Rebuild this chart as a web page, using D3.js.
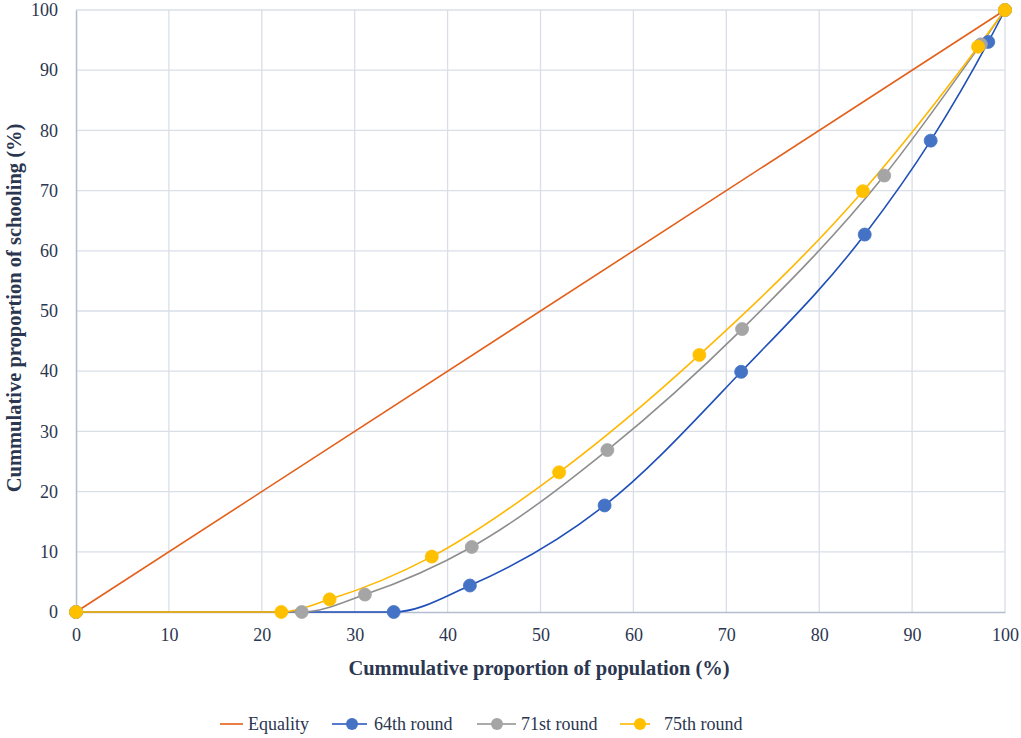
<!DOCTYPE html>
<html><head><meta charset="utf-8">
<script src="https://cdn.jsdelivr.net/npm/d3@7"></script>
<style>body{margin:0;background:#fff}svg{display:block}
svg text{font-family:"Liberation Serif","Times New Roman",serif}</style>
</head><body>
<svg id="c" width="1021" height="738"></svg>
<script>
const xTicks = [0,10,20,30,40,50,60,70,80,90,100];
const yTicks = [0,10,20,30,40,50,60,70,80,90,100];
const equalityX = [0, 100];
const equalityY = [0, 100];
const r64X = [0, 34.2, 42.4, 56.9, 71.6, 84.9, 92.0, 98.2, 100];
const r64Y = [0, 0, 4.4, 17.7, 39.9, 62.7, 78.3, 94.7, 100];
const r71X = [0, 24.3, 31.1, 42.6, 57.2, 71.7, 87.0, 97.4, 100];
const r71Y = [0, 0, 2.9, 10.8, 26.9, 47.0, 72.5, 94.3, 100];
const r75X = [0, 22.1, 27.3, 38.3, 52.0, 67.1, 84.7, 97.1, 100];
const r75Y = [0, 0, 2.1, 9.2, 23.2, 42.7, 69.9, 93.9, 100];
const seriesNames = ["Equality", "64th round", "71st round", "75th round"];

const svg = d3.select("#c");
const x = d3.scaleLinear().domain([0,100]).range([76,1005]);
const y = d3.scaleLinear().domain([0,100]).range([612,10]);
const serif = "'Liberation Serif','Times New Roman',serif";
const textCol = "#2b3650";

// grid
svg.append("g").selectAll("line").data(xTicks.filter(d=>d>0)).join("line")
  .attr("x1",d=>x(d)).attr("x2",d=>x(d)).attr("y1",y(0)).attr("y2",y(100))
  .attr("stroke","#d9dee7").attr("stroke-width",1.3);
svg.append("g").selectAll("line").data(yTicks.filter(d=>d>0)).join("line")
  .attr("x1",x(0)).attr("x2",x(100)).attr("y1",d=>y(d)).attr("y2",d=>y(d))
  .attr("stroke","#d9dee7").attr("stroke-width",1.3);

// axes
const xAxis = svg.append("g").attr("transform",`translate(0,${y(0)})`)
  .call(d3.axisBottom(x).tickValues(xTicks).tickSize(0).tickPadding(16));
const yAxis = svg.append("g").attr("transform",`translate(${x(0)},0)`)
  .call(d3.axisLeft(y).tickValues(yTicks).tickSize(0).tickPadding(18));
[xAxis,yAxis].forEach(a=>{
  a.attr("font-family",null).attr("font-size",null);
  a.select(".domain").attr("stroke","#b3bdcf").attr("stroke-width",1.5);
  a.selectAll("text").style("font-family",serif).style("font-size","18px").attr("fill",textCol);
});

// titles
svg.append("text").attr("x",539).attr("y",675).attr("text-anchor","middle")
  .style("font-family",serif).style("font-weight","bold").style("font-size","20.5px").attr("fill",textCol)
  .text("Cummulative proportion of population (%)");
svg.append("text").attr("transform","translate(21,308) rotate(-90)").attr("text-anchor","middle")
  .style("font-family",serif).style("font-weight","bold").style("font-size","20.5px").attr("fill",textCol)
  .text("Cummulative proportion of schooling (%)");

// equality
const straight = d3.line().x(d=>x(d[0])).y(d=>y(d[1]));
svg.append("path").datum(d3.zip(equalityX,equalityY)).attr("d",straight)
  .attr("fill","none").attr("stroke","#e35f1a").attr("stroke-width",1.6);

const smooth = d3.line().x(d=>x(d[0])).y(d=>y(d[1])).curve(d3.curveMonotoneX);
const series = [
  {xs:r64X, ys:r64Y, line:"#1f4fb8", fill:"#4472c4"},
  {xs:r71X, ys:r71Y, line:"#8e8e8e", fill:"#a5a5a5"},
  {xs:r75X, ys:r75Y, line:"#ffb800", fill:"#ffc000"}
];
series.forEach(s=>{
  const pts = d3.zip(s.xs,s.ys);
  svg.append("path").datum(pts).attr("d",smooth).attr("fill","none")
    .attr("stroke",s.line).attr("stroke-width",1.6);
});
series.forEach(s=>{
  const pts = d3.zip(s.xs,s.ys);
  svg.append("g").selectAll("circle").data(pts).join("circle")
    .attr("cx",d=>x(d[0])).attr("cy",d=>y(d[1])).attr("r",6.5)
    .attr("fill",s.fill).attr("stroke",s.fill).attr("stroke-width",0.8);
});

// legend
const legend = [
  {name:seriesNames[0], x1:220, x2:243, mx:null, tx:248, line:"#e35f1a", fill:null},
  {name:seriesNames[1], x1:332, x2:367, mx:352, tx:374, line:"#1f4fb8", fill:"#4472c4"},
  {name:seriesNames[2], x1:477, x2:516, mx:497, tx:521, line:"#8e8e8e", fill:"#a5a5a5"},
  {name:seriesNames[3], x1:620, x2:650, mx:640, tx:664, line:"#ffb800", fill:"#ffc000"}
];
const lg = svg.append("g");
legend.forEach(l=>{
  lg.append("line").attr("x1",l.x1).attr("x2",l.x2).attr("y1",724).attr("y2",724)
    .attr("stroke",l.line).attr("stroke-width",1.6);
  if(l.fill) lg.append("circle").attr("cx",l.mx).attr("cy",724).attr("r",6).attr("fill",l.fill);
  lg.append("text").attr("x",l.tx).attr("y",730).style("font-family",serif).style("font-size","18px")
    .attr("fill",textCol).text(l.name);
});
</script>
</body></html>
